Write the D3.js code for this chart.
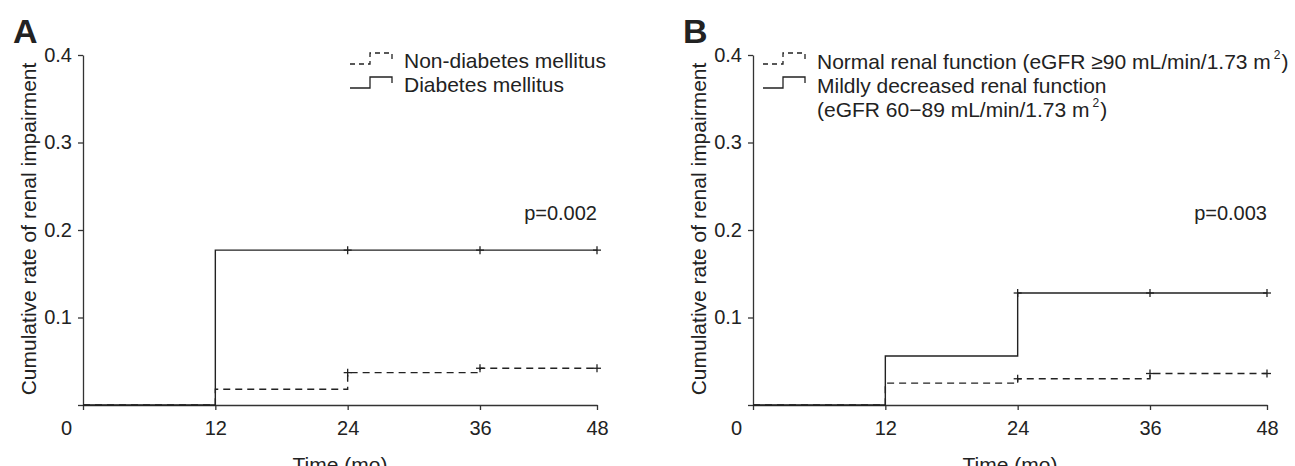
<!DOCTYPE html>
<html>
<head>
<meta charset="utf-8">
<script src="https://cdn.jsdelivr.net/npm/d3@7"></script>
<style>
  body { margin: 0; background: #fff; }
  text { font-family: "Liberation Sans", Arial, Helvetica, sans-serif; fill: #222; }
</style>
</head>
<body>
<div id="chart"></div>
<script>
// tick values shared by both panels
var timeTicks = [0, 12, 24, 36, 48];
var rateTicks = [0, 0.1, 0.2, 0.3, 0.4];

// step times of the curves (months)
var times = [0, 12, 24, 36, 48];

// panel A: diabetes
var nonDiabetes = [0, 0.018, 0.037, 0.042, 0.042];
var diabetes = [0, 0.177, 0.177, 0.177, 0.177];
var nonDiabetesCensor = [24, 36, 48];
var diabetesCensor = [24, 36, 48];

// panel B: renal function
var normalRenal = [0, 0.025, 0.030, 0.036, 0.036];
var mildRenal = [0, 0.056, 0.128, 0.128, 0.128];
var normalCensor = [24, 36, 48];
var mildCensor = [24, 36, 48];

var W = 1295, H = 466;
var top0 = 55, bottom0 = 405;

var svg = d3.select("#chart").append("svg")
    .attr("width", W)
    .attr("height", H);

svg.append("rect").attr("width", W).attr("height", H).attr("fill", "#fff");

function drawPanel(p) {
  var g = svg.append("g");

  // the time axis in the source is a bit squeezed after 36 mo
  var x = d3.scaleLinear().domain([0, 36, 48]).range([p.left, p.left + 397, p.left + 514]);
  var y = d3.scaleLinear().domain([0, 0.4]).range([bottom0, top0]);

  // y axis
  var ya = g.append("g")
      .attr("transform", "translate(" + p.left + ",0)")
      .call(d3.axisLeft(y).tickValues(rateTicks).tickSize(5).tickSizeOuter(0).tickPadding(6)
        .tickFormat(function(d) { return d === 0 ? "" : d3.format(".1f")(d); }));

  // x axis
  var xa = g.append("g")
      .attr("transform", "translate(0," + bottom0 + ")")
      .call(d3.axisBottom(x).tickValues(timeTicks).tickSize(5).tickSizeOuter(0).tickPadding(11));
  xa.selectAll(".tick text").filter(function(d) { return d === 0; }).attr("dx", -17);

  [ya, xa].forEach(function(a) {
    a.selectAll("path, line").attr("stroke", "#333").attr("stroke-width", 1.3);
    a.selectAll("text").attr("font-size", 20).attr("fill", "#222")
      .attr("font-family", "Liberation Sans, Arial, sans-serif");
  });

  // curves
  var line = d3.line()
      .x(function(d) { return x(d[0]); })
      .y(function(d) { return y(d[1]); })
      .curve(d3.curveStepAfter);

  function curve(vals, censor, dashed) {
    var pts = times.map(function(t, i) { return [t, vals[i]]; });
    g.append("path")
        .datum(pts)
        .attr("fill", "none")
        .attr("stroke", "#222")
        .attr("stroke-width", 1.4)
        .attr("stroke-dasharray", dashed ? "7,5" : null)
        .attr("d", line);
    // censor marks
    var c = g.append("g").selectAll("g")
        .data(censor)
        .enter().append("g")
        .attr("transform", function(t) {
          var i = times.indexOf(t);
          return "translate(" + x(t) + "," + y(vals[i]) + ")";
        });
    c.append("line").attr("y1", -4).attr("y2", 4)
        .attr("stroke", "#222").attr("stroke-width", 1.3);
    c.append("line").attr("x1", -4).attr("x2", 4)
        .attr("stroke", "#222").attr("stroke-width", 1.3);
  }

  curve(p.dashVals, p.dashCensor, true);
  curve(p.solidVals, p.solidCensor, false);

  // panel letter
  g.append("text")
      .attr("x", p.letterX).attr("y", 43)
      .attr("font-size", 34).attr("font-weight", "bold")
      .attr("fill", "#111")
      .text(p.letter);

  // y title
  g.append("text")
      .attr("transform", "translate(" + (p.left - 54) + "," + 229 + ") rotate(-90)")
      .attr("text-anchor", "middle")
      .attr("dy", "0.35em")
      .attr("font-size", 21)
      .text("Cumulative rate of renal impairment");

  // x title (cut by the bottom edge, as in the source)
  g.append("text")
      .attr("x", (x(0) + x(48)) / 2).attr("y", 472)
      .attr("text-anchor", "middle")
      .attr("font-size", 21)
      .text("Time (mo)");

  // p value
  g.append("text")
      .attr("x", x(48)).attr("y", 220)
      .attr("text-anchor", "end")
      .attr("font-size", 20)
      .text(p.pval);

  // legend
  var lg = g.append("g").attr("transform", "translate(" + p.legX + ",0)");
  p.legend.forEach(function(item) {
    var yb = item.symY;
    if (item.sym) {
      lg.append("path")
          .attr("d", "M0," + yb + "H20V" + (yb - 11) + "H42V" + (yb - 5))
          .attr("fill", "none")
          .attr("stroke", "#222")
          .attr("stroke-width", 1.3)
          .attr("stroke-dasharray", item.sym === "dash" ? "5,4" : null);
    }
    var t = lg.append("text")
        .attr("x", 54).attr("y", item.textY)
        .attr("font-size", item.size || 21);
    var raised = false;
    item.parts.forEach(function(pt) {
      var s = t.append("tspan").text(pt.text);
      if (pt.sup) {
        s.attr("dy", -10).attr("font-size", 12).attr("dx", 3);
        raised = true;
      } else if (raised) {
        s.attr("dy", 10).attr("dx", 1);
        raised = false;
      }
    });
  });
}

drawPanel({
  left: 83, letter: "A", letterX: 13, pval: "p=0.002", legX: 350,
  dashVals: nonDiabetes, dashCensor: nonDiabetesCensor,
  solidVals: diabetes, solidCensor: diabetesCensor,
  legend: [
    {sym: "dash", symY: 64, textY: 68, parts: [{text: "Non-diabetes mellitus"}]},
    {sym: "solid", symY: 88, textY: 92, parts: [{text: "Diabetes mellitus"}]}
  ]
});

drawPanel({
  left: 753, letter: "B", letterX: 683, pval: "p=0.003", legX: 763,
  dashVals: normalRenal, dashCensor: normalCensor,
  solidVals: mildRenal, solidCensor: mildCensor,
  legend: [
    {sym: "dash", symY: 64, textY: 69, parts: [{text: "Normal renal function (eGFR \u226590 mL/min/1.73 m"}, {text: "2", sup: true}, {text: ")"}]},
    {sym: "solid", symY: 88, textY: 93, parts: [{text: "Mildly decreased renal function"}]},
    {sym: null, symY: 0, textY: 117, parts: [{text: "(eGFR 60\u221289 mL/min/1.73 m"}, {text: "2", sup: true}, {text: ")"}]}
  ]
});
</script>
</body>
</html>
